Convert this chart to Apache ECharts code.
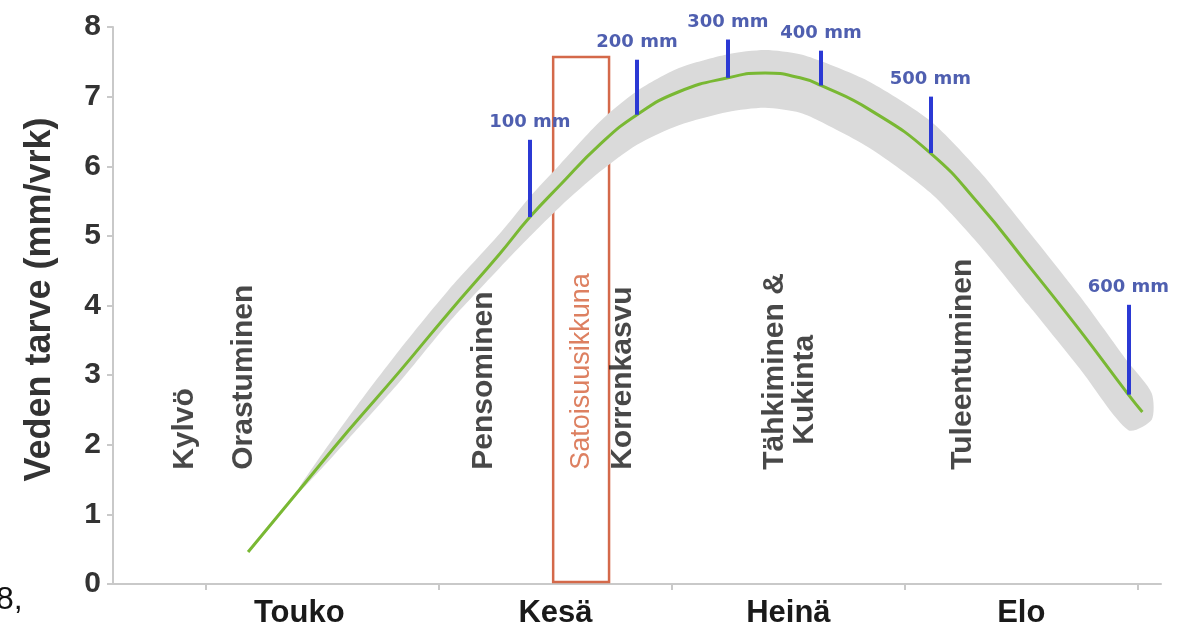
<!DOCTYPE html>
<html>
<head>
<meta charset="utf-8">
<script src="https://cdn.jsdelivr.net/npm/echarts@6/dist/echarts.min.js"></script>
<style>
  html, body { margin: 0; background: #fff; }
  #chart { width: 1199px; height: 630px; }
</style>
</head>
<body>
<div id="chart"></div>
<script>
// x = kuukausi (5 = toukokuun alku), y = veden tarve mm/vrk
const curveX = [5.18, 5.40, 5.61, 5.83, 6.04, 6.26, 6.39, 6.52, 6.69, 6.85, 7.03, 7.24, 7.40, 7.55, 7.64, 7.85, 8.11, 8.32, 8.53, 8.75, 8.96, 9.02];
const curveY = [0.46, 1.35, 2.20, 3.05, 3.89, 4.74, 5.27, 5.73, 6.31, 6.74, 7.07, 7.27, 7.34, 7.27, 7.16, 6.81, 6.19, 5.45, 4.58, 3.65, 2.72, 2.47];

// harmaa vaihteluvyöhyke (ala- ja yläraja)
const bandX = [5.40, 5.61, 5.83, 6.04, 6.26, 6.39, 6.52, 6.69, 6.85, 7.03, 7.24, 7.40, 7.55, 7.64, 7.85, 8.11, 8.32, 8.53, 8.75, 8.96, 9.06];
const bandLow = [1.32, 2.08, 2.90, 3.75, 4.54, 4.99, 5.42, 5.92, 6.31, 6.59, 6.78, 6.84, 6.77, 6.64, 6.26, 5.62, 4.87, 4.01, 3.10, 2.21, 2.36];
const bandHigh = [1.39, 2.39, 3.36, 4.22, 5.03, 5.56, 6.03, 6.64, 7.08, 7.41, 7.61, 7.67, 7.61, 7.51, 7.21, 6.65, 5.93, 5.07, 4.14, 3.18, 2.74];

const monthNames = ["Touko", "Kesä", "Heinä", "Elo"];
const monthLabelAt = [5.4, 6.5, 7.5, 8.5];
const monthStarts = [5, 6, 7, 8, 9];

const sumLabels = ["100 mm", "200 mm", "300 mm", "400 mm", "500 mm", "600 mm"];
const sumX = [6.39, 6.85, 7.24, 7.64, 8.11, 8.96];
const sumLow = [5.27, 6.74, 7.27, 7.16, 6.19, 2.72];
const sumHigh = [6.38, 7.53, 7.82, 7.66, 7.00, 4.01];

const stageNames = ["Kylvö", "Orastuminen", "Pensominen", "Korrenkasvu", "Tähkiminen &", "Kukinta", "Tuleentuminen"];
const stageX = [4.91, 5.16, 6.19, 6.79, 7.44, 7.57, 8.25];
const stageY = [1.64, 1.64, 1.64, 1.64, 1.64, 2.0, 1.64];

const windowName = "Satoisuusikkuna";
const windowX = [6.49, 6.73];
const windowY = [0.03, 7.57];
const windowLabelX = 6.61;

const FONT = "Liberation Sans";
const BAND = "#dadada";

const curve = curveX.map((x, i) => [x, curveY[i]]);

const chart = echarts.init(document.getElementById("chart"));

chart.setOption({
  animation: false,
  backgroundColor: "#fff",
  grid: { left: 113, right: 38, top: 27, bottom: 46 },
  xAxis: {
    type: "value",
    min: 4.6,
    max: 9.1,
    splitLine: { show: false },
    axisLine: { lineStyle: { color: "#c9c9c9", width: 2 } },
    axisTick: {
      customValues: monthStarts,
      length: 6,
      lineStyle: { color: "#c9c9c9", width: 2 },
    },
    axisLabel: {
      customValues: monthLabelAt,
      formatter: (v) => monthNames[monthLabelAt.indexOf(v)] || "",
      margin: 14,
      color: "#1a1a1a",
      fontFamily: FONT,
      fontWeight: "bold",
      fontSize: 31,
    },
  },
  yAxis: {
    type: "value",
    min: 0,
    max: 8,
    interval: 1,
    name: "Veden tarve (mm/vrk)",
    nameLocation: "middle",
    nameRotate: 90,
    nameGap: 55,
    nameTextStyle: {
      color: "#333",
      fontFamily: FONT,
      fontWeight: "bold",
      fontSize: 36,
      padding: [0, 0, 0, 12],
    },
    splitLine: { show: false },
    axisLine: { show: true, lineStyle: { color: "#c9c9c9", width: 2 } },
    axisTick: { show: true, length: 6, lineStyle: { color: "#c9c9c9", width: 2 } },
    axisLabel: {
      margin: 12,
      color: "#333",
      fontFamily: FONT,
      fontWeight: "bold",
      fontSize: 30,
    },
  },
  graphic: [
    {
      type: "text",
      left: -4,
      top: 584,
      style: { text: "8,", font: "32px " + FONT, fill: "#111" },
    },
  ],
  series: [
    {
      // harmaa vaihteluvyöhyke yhtenä monikulmiona
      type: "custom",
      silent: true,
      z: 1,
      data: bandX.map((x, i) => [x, bandLow[i], bandHigh[i]]),
      encode: { x: 0, y: [1, 2] },
      renderItem: (params, api) => {
        if (params.dataIndex !== 0) return;
        const top = bandX.map((x, i) => api.coord([x, bandHigh[i]]));
        const bottom = bandX.map((x, i) => api.coord([x, bandLow[i]])).reverse();
        return {
          type: "polygon",
          shape: { points: top.concat(bottom), smooth: 0.25 },
          style: { fill: BAND },
        };
      },
    },
    {
      type: "line",
      data: curve,
      smooth: true,
      showSymbol: false,
      silent: true,
      z: 3,
      lineStyle: { color: "#79b833", width: 3 },
      markLine: {
        silent: true,
        symbol: ["none", "none"],
        lineStyle: { color: "#2b39d4", width: 4, type: "solid" },
        label: {
          show: true,
          position: "end",
          distance: 8,
          formatter: "{b}",
          color: "#4f5fb0",
          fontFamily: "DejaVu Sans",
          fontWeight: "bold",
          fontSize: 18,
        },
        data: sumX.map((x, i) => [
          { name: sumLabels[i], coord: [x, sumLow[i]] },
          { coord: [x, sumHigh[i]] },
        ]),
      },
      markArea: {
        silent: true,
        itemStyle: {
          color: "rgba(0,0,0,0)",
          borderColor: "#d4694a",
          borderWidth: 2.5,
        },
        label: { show: false },
        data: [[
          { coord: [windowX[0], windowY[0]] },
          { coord: [windowX[1], windowY[1]] },
        ]],
      },
    },
    {
      // kasvuvaiheet
      type: "scatter",
      symbolSize: 0,
      silent: true,
      z: 4,
      data: stageNames.map((n, i) => ({ name: n, value: [stageX[i], stageY[i]] })),
      label: {
        show: true,
        position: "inside",
        rotate: 90,
        align: "left",
        verticalAlign: "middle",
        formatter: "{b}",
        color: "#1a1a1a",
        fontFamily: FONT,
        fontWeight: "bold",
        fontSize: 30,
      },
    },
    {
      type: "scatter",
      symbolSize: 0,
      silent: true,
      z: 4,
      data: [{ name: windowName, value: [windowLabelX, 1.64] }],
      label: {
        show: true,
        position: "inside",
        rotate: 90,
        align: "left",
        verticalAlign: "middle",
        formatter: "{b}",
        color: "#d4603a",
        fontFamily: FONT,
        fontSize: 27,
      },
    },
  ],
});
</script>
</body>
</html>
